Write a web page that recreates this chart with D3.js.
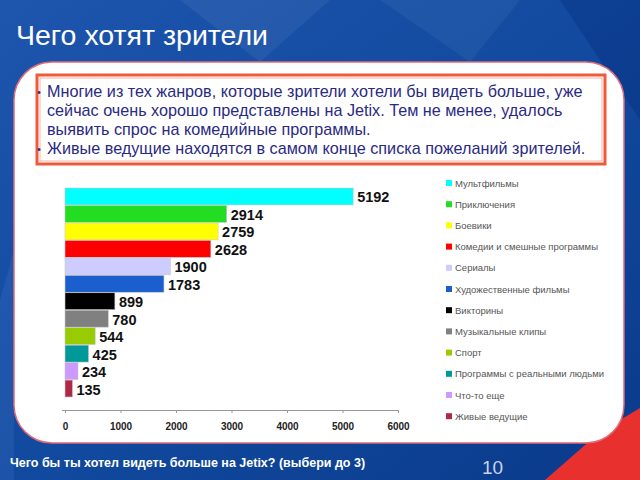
<!DOCTYPE html>
<html><head><meta charset="utf-8">
<script src="https://cdn.jsdelivr.net/npm/d3@7"></script>
<style>body{margin:0;overflow:hidden}svg{display:block}</style>
</head><body>
<script>
const categories = ["Мультфильмы","Приключения","Боевики","Комедии и смешные программы","Сериалы","Художественные фильмы","Викторины","Музыкальные клипы","Спорт","Программы с реальными людьми","Что-то еще","Живые ведущие"];
const values = [5192,2914,2759,2628,1900,1783,899,780,544,425,234,135];
const barColors = ["#00ffff","#22dd22","#ffff00","#ff0000","#ccccff","#1b5fce","#000000","#808080","#99cc00","#009999","#cc99ff","#b02848"];
const xTicks = [0,1000,2000,3000,4000,5000,6000];
const title = "Чего хотят зрители";
const notes = ["Многие из тех жанров, которые зрители хотели бы видеть больше, уже","сейчас очень хорошо представлены на Jetix. Тем не менее, удалось","выявить спрос на комедийные программы.","Живые ведущие находятся в самом конце списка пожеланий зрителей."];
const bullets = [true,false,false,true];
const footer = "Чего бы ты хотел видеть больше на Jetix? (выбери до 3)";
const pageNum = "10";

const svg = d3.select("body").append("svg").attr("width",640).attr("height",480);
const defs = svg.append("defs");
const bg = defs.append("linearGradient").attr("id","bg").attr("x1","0").attr("y1","0").attr("x2","1").attr("y2","1");
bg.append("stop").attr("offset","0").attr("stop-color","#1e55ad");
bg.append("stop").attr("offset","0.5").attr("stop-color","#114a9f");
bg.append("stop").attr("offset","1").attr("stop-color","#0a3a8a");
svg.append("rect").attr("width",640).attr("height",480).attr("fill","url(#bg)");
svg.append("path").attr("d","M180,0 L330,0 L260,62 Z").attr("fill","#ffffff").attr("opacity",0.06);
svg.append("path").attr("d","M380,0 L520,0 L470,62 Z").attr("fill","#ffffff").attr("opacity",0.05);
svg.append("path").attr("d","M560,0 L640,0 L640,120 Z").attr("fill","#001a66").attr("opacity",0.25);
svg.append("path").attr("d","M0,300 L14,250 L14,480 L0,480 Z").attr("fill","#3a6cc0").attr("opacity",0.3);
svg.append("path").attr("d","M545,480 L600,432 L640,408 L640,480 Z").attr("fill","#e8312f");

svg.append("rect").attr("x",14).attr("y",62).attr("width",610).attr("height",381).attr("rx",38).attr("ry",38)
  .attr("fill","#ffffff").attr("stroke","#e06a7a").attr("stroke-width",1.5);

svg.append("text").attr("x",16).attr("y",45).attr("fill","#ffffff")
  .attr("font-family","Liberation Sans, Arial, sans-serif").attr("font-size",28.5).text(title);

svg.append("rect").attr("x",37).attr("y",75).attr("width",568).attr("height",89)
  .attr("fill","none").attr("stroke","#ef5a3a").attr("stroke-width",3);
svg.append("rect").attr("x",40).attr("y",78).attr("width",562).attr("height",83)
  .attr("fill","none").attr("stroke","#f6a08a").attr("stroke-width",0.8);
const nt = svg.append("g").attr("font-family","Liberation Sans, Arial, sans-serif").attr("font-size",16.2).attr("fill","#2a2a82");
notes.forEach((t,i)=>{
  const yy = 96.5+i*19;
  if (bullets[i]) nt.append("text").attr("x",37).attr("y",yy-1).attr("font-size",11).text("•");
  nt.append("text").attr("x",47).attr("y",yy).text(t);
});

const x = d3.scaleLinear().domain([0,6000]).range([65,398]);
const y = d3.scaleBand().domain(categories).range([188,397]).paddingInner(0.03);
const g = svg.append("g");
g.selectAll("rect.bar").data(values).join("rect").attr("class","bar")
  .attr("x",x(0)).attr("y",(d,i)=>y(categories[i]))
  .attr("width",d=>x(d)-x(0)).attr("height",y.bandwidth())
  .attr("fill",(d,i)=>barColors[i]).attr("stroke","#c8c8c8").attr("stroke-width",0.6);
g.selectAll("text.val").data(values).join("text").attr("class","val")
  .attr("x",d=>x(d)+4).attr("y",(d,i)=>y(categories[i])+y.bandwidth()/2+6)
  .attr("font-family","Liberation Sans, Arial, sans-serif").attr("font-weight","bold").attr("font-size",14.5)
  .attr("fill","#111").text(d=>d);

const ax = svg.append("g").attr("transform","translate(0,410)")
  .call(d3.axisBottom(x).tickValues(xTicks).tickSize(3).tickPadding(10).tickFormat(d3.format("d")));
ax.select(".domain").attr("stroke","#999").attr("d","M62,0.5H398");
ax.selectAll(".tick line").attr("stroke","#999");
ax.selectAll(".tick text").attr("font-family","Liberation Sans, Arial, sans-serif").attr("font-weight","bold")
  .attr("font-size",10).attr("fill","#222");

const lg = svg.append("g").attr("font-family","Liberation Sans, Arial, sans-serif").attr("font-size",9.5).attr("fill","#555");
categories.forEach((c,i)=>{
  const yy = 183 + i*21.2;
  lg.append("rect").attr("x",446).attr("y",yy-3).attr("width",6).attr("height",6).attr("fill",barColors[i]);
  lg.append("text").attr("x",455).attr("y",yy+3.5).text(c);
});

svg.append("text").attr("x",10).attr("y",467).attr("fill","#ffffff")
  .attr("font-family","Liberation Sans, Arial, sans-serif").attr("font-weight","bold").attr("font-size",12.5).text(footer);
svg.append("text").attr("x",482).attr("y",474).attr("fill","#c9d2ea")
  .attr("font-family","Liberation Sans, Arial, sans-serif").attr("font-size",19).text(pageNum);
</script>
</body></html>
